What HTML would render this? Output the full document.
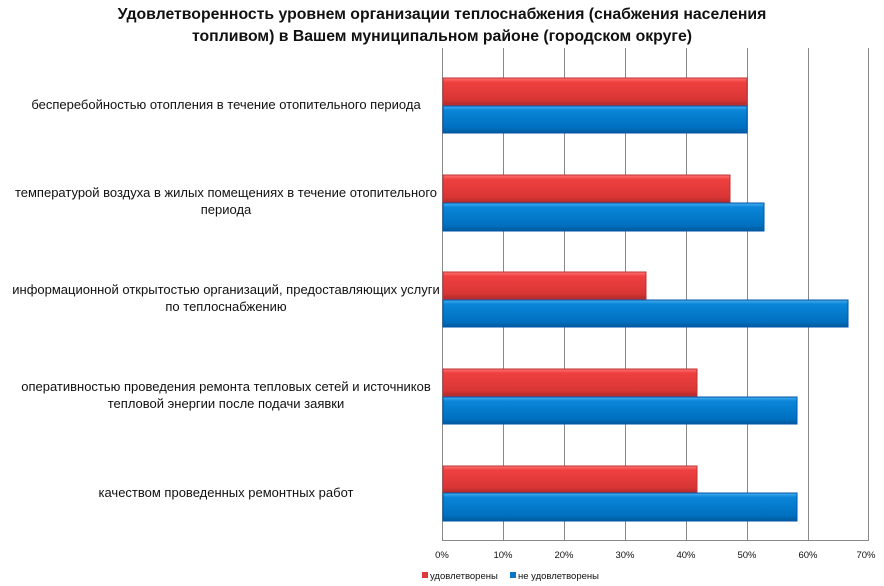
<!DOCTYPE html>
<html><head><meta charset="utf-8"><style>
body{margin:0;background:#fff;width:884px;height:586px;overflow:hidden;position:relative;font-family:"Liberation Sans",sans-serif}
.t{position:absolute;left:0;width:884px;text-align:center;top:4px;font-weight:bold;font-size:15.8px;line-height:22px;color:#111}
.l{position:absolute;width:452px;left:0;text-align:center;font-size:13px;line-height:17px;color:#111}
</style></head><body>
<div class="t">Удовлетворенность уровнем организации теплоснабжения (снабжения населения<br>топливом) в Вашем муниципальном районе (городском округе)</div>
<svg width="884" height="586" style="position:absolute;left:0;top:0">
<defs>
<linearGradient id="r" x1="0" y1="0" x2="0" y2="1"><stop offset="0" stop-color="#f77"/><stop offset=".15" stop-color="#f04040"/><stop offset=".8" stop-color="#d83535"/><stop offset="1" stop-color="#b02a2a"/></linearGradient>
<linearGradient id="b" x1="0" y1="0" x2="0" y2="1"><stop offset="0" stop-color="#4ab0f0"/><stop offset=".15" stop-color="#0a86d8"/><stop offset=".8" stop-color="#0070c0"/><stop offset="1" stop-color="#005a9c"/></linearGradient>
</defs>
<g stroke="#888" stroke-width="1">
<line x1="442.5" y1="48" x2="442.5" y2="540"/><line x1="503.5" y1="48" x2="503.5" y2="540"/><line x1="564.5" y1="48" x2="564.5" y2="540"/><line x1="625.5" y1="48" x2="625.5" y2="540"/><line x1="686.5" y1="48" x2="686.5" y2="540"/><line x1="747.5" y1="48" x2="747.5" y2="540"/><line x1="808.5" y1="48" x2="808.5" y2="540"/><line x1="868.5" y1="48" x2="868.5" y2="540"/>
<line x1="442" y1="540.5" x2="869" y2="540.5"/>
</g>
<g stroke-width="1">
<rect x="443" y="78" width="304" height="27" fill="url(#r)" stroke="#b33"/>
<rect x="443" y="106" width="304" height="27" fill="url(#b)" stroke="#05a"/>
<rect x="443" y="175" width="287" height="28" fill="url(#r)" stroke="#b33"/>
<rect x="443" y="203" width="321" height="28" fill="url(#b)" stroke="#05a"/>
<rect x="443" y="272" width="203" height="27" fill="url(#r)" stroke="#b33"/>
<rect x="443" y="300" width="405" height="27" fill="url(#b)" stroke="#05a"/>
<rect x="443" y="369" width="254" height="27" fill="url(#r)" stroke="#b33"/>
<rect x="443" y="397" width="354" height="27" fill="url(#b)" stroke="#05a"/>
<rect x="443" y="466" width="254" height="27" fill="url(#r)" stroke="#b33"/>
<rect x="443" y="493" width="354" height="28" fill="url(#b)" stroke="#05a"/>
</g>
<g font-family="Liberation Sans,sans-serif" font-size="9.5" fill="#111" text-anchor="middle">
<text x="442" y="558">0%</text><text x="503" y="558">10%</text><text x="564" y="558">20%</text><text x="625" y="558">30%</text><text x="686" y="558">40%</text><text x="747" y="558">50%</text><text x="808" y="558">60%</text><text x="866" y="558">70%</text>
</g>
<rect x="422" y="572" width="6" height="6" fill="#e03838"/>
<text x="430" y="579" font-family="Liberation Sans,sans-serif" font-size="9.5" fill="#111">удовлетворены</text>
<rect x="510" y="572" width="6" height="6" fill="#0a78c8"/>
<text x="518" y="579" font-family="Liberation Sans,sans-serif" font-size="9.5" fill="#111">не удовлетворены</text>
</svg>
<div class="l" style="top:96px">бесперебойностью отопления в течение отопительного периода</div>
<div class="l" style="top:184px">температурой воздуха в жилых помещениях в течение отопительного<br>периода</div>
<div class="l" style="top:281px">информационной открытостью организаций, предоставляющих услуги<br>по теплоснабжению</div>
<div class="l" style="top:378px">оперативностью проведения ремонта тепловых сетей и источников<br>тепловой энергии после подачи заявки</div>
<div class="l" style="top:484px">качеством проведенных ремонтных работ</div>
</body></html>
